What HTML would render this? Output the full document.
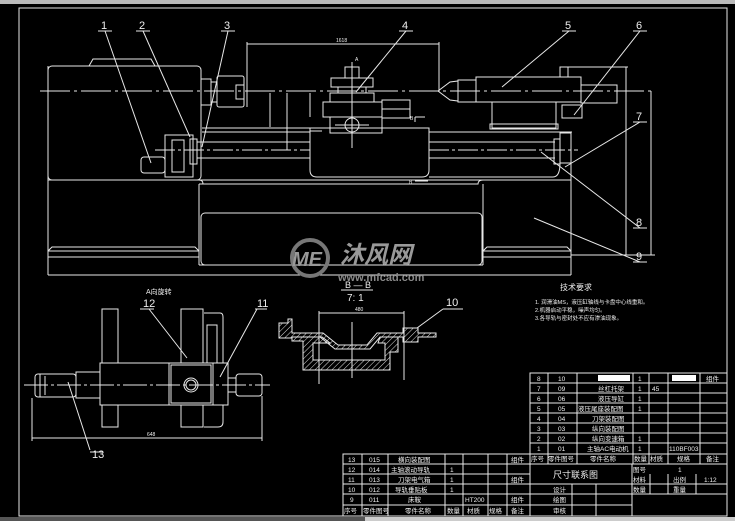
<!DOCTYPE html>
<html><head><meta charset="utf-8"><style>
html,body{margin:0;padding:0;background:#000;width:735px;height:521px;overflow:hidden}
svg{display:block}
text{font-family:"Liberation Sans","Noto Sans CJK SC",sans-serif;fill:#eee}
</style></head><body>
<svg width="735" height="521" viewBox="0 0 735 521" xmlns="http://www.w3.org/2000/svg">
<defs>
<pattern id="h" width="4" height="4" patternUnits="userSpaceOnUse" patternTransform="rotate(45)">
<line x1="0" y1="0" x2="0" y2="4" stroke="#ddd" stroke-width="1"/></pattern>
</defs>
<rect x="0" y="0" width="735" height="4" fill="#bbb"/>
<rect x="0" y="517" width="735" height="4" fill="#555"/>
<rect x="365" y="517" width="370" height="4" fill="#ccc"/>
<g fill="none" stroke="#e8e8e8" stroke-width="1">
<rect x="19" y="8" width="708" height="508"/>
<rect x="48" y="66" width="153" height="114" rx="4"/>
<polyline points="89,66 93,59 151,59 155,66"/>
<line x1="40" y1="91" x2="652" y2="91" stroke-dasharray="30,4,3,4"/>
<rect x="201" y="79" width="10" height="26"/>
<rect x="211" y="82" width="6" height="20"/>
<rect x="217" y="76" width="27" height="31" rx="2"/>
<rect x="236" y="85" width="8" height="14"/>
<line x1="247" y1="44" x2="439" y2="44"/>
<line x1="247" y1="42" x2="247" y2="107"/>
<line x1="439" y1="42" x2="439" y2="92"/>
<rect x="345" y="67" width="14" height="11"/>
<rect x="331" y="78" width="42" height="9"/>
<rect x="338" y="87" width="28" height="6"/>
<rect x="330" y="93" width="44" height="9"/>
<rect x="323" y="102" width="59" height="15"/>
<rect x="382" y="100" width="28" height="18"/>
<line x1="382" y1="109" x2="410" y2="109"/>
<rect x="330" y="117" width="52" height="16"/>
<circle cx="352" cy="125" r="7"/>
<line x1="352" y1="62" x2="352" y2="148"/>
<line x1="335" y1="125" x2="369" y2="125"/>
<line x1="270" y1="93" x2="270" y2="127"/>
<line x1="287" y1="93" x2="287" y2="150"/>
<line x1="310" y1="93" x2="310" y2="117"/>
<path d="M310,128 L429,128 L429,170 Q429,177 422,177 L317,177 Q310,177 310,170 Z"/>
<line x1="310" y1="131" x2="322" y2="131"/>
<line x1="202" y1="128" x2="310" y2="128"/>
<line x1="202" y1="132" x2="310" y2="132"/>
<line x1="429" y1="132" x2="572" y2="132"/>
<line x1="197" y1="142" x2="310" y2="142"/>
<line x1="429" y1="142" x2="555" y2="142"/>
<line x1="155" y1="150" x2="310" y2="150" stroke-dasharray="20,3,3,3"/>
<line x1="429" y1="150" x2="578" y2="150" stroke-dasharray="20,3,3,3"/>
<line x1="197" y1="158" x2="310" y2="158"/>
<line x1="429" y1="158" x2="555" y2="158"/>
<rect x="141" y="157" width="24" height="16" rx="3"/>
<rect x="165" y="135" width="28" height="42"/>
<rect x="172" y="140" width="12" height="32"/>
<rect x="190" y="139" width="7" height="25"/>
<rect x="554" y="139" width="6" height="25"/>
<rect x="560" y="133" width="11" height="30"/>
<path d="M560,163 Q560,177 553,177 L429,177"/>
<path d="M438,91 L450,82 L458,81 L458,101 L450,100 Z"/>
<rect x="458" y="80" width="18" height="22"/>
<rect x="476" y="77" width="105" height="25"/>
<rect x="581" y="85" width="36" height="18"/>
<rect x="492" y="102" width="64" height="26"/>
<rect x="490" y="124" width="68" height="5"/>
<rect x="560" y="67" width="8" height="10"/>
<rect x="562" y="105" width="20" height="13"/>
<line x1="568" y1="67" x2="628" y2="67"/>
<line x1="626" y1="67" x2="626" y2="255"/>
<line x1="651" y1="91" x2="651" y2="255"/>
<line x1="48" y1="180" x2="571" y2="180"/>
<line x1="48" y1="66" x2="48" y2="275"/>
<line x1="571" y1="132" x2="571" y2="275"/>
<path d="M199,180 Q203,180 203,184 L478,184 Q478,180 483,180"/>
<line x1="203" y1="184" x2="199" y2="184"/>
<line x1="199" y1="184" x2="199" y2="265"/>
<line x1="483" y1="184" x2="483" y2="265"/>
<rect x="201" y="213" width="281" height="52" rx="4"/>
<line x1="199" y1="265" x2="483" y2="265"/>
<path d="M48,251 L52,247 L195,247 L199,251"/>
<path d="M483,251 L487,247 L567,247 L571,251"/>
<line x1="48" y1="251" x2="199" y2="251"/>
<line x1="483" y1="251" x2="571" y2="251"/>
<line x1="48" y1="257" x2="199" y2="257"/>
<line x1="483" y1="257" x2="571" y2="257"/>
<line x1="48" y1="275" x2="571" y2="275"/>
<line x1="571" y1="255" x2="655" y2="255"/>
<line x1="105" y1="31" x2="151" y2="163"/>
<line x1="143" y1="31" x2="190" y2="137"/>
<line x1="228" y1="31" x2="202" y2="147"/>
<line x1="406" y1="31" x2="356" y2="92"/>
<line x1="569" y1="31" x2="502" y2="87"/>
<line x1="640" y1="31" x2="574" y2="115"/>
<line x1="640" y1="122" x2="565" y2="167"/>
<line x1="640" y1="228" x2="541" y2="152"/>
<line x1="640" y1="262" x2="534" y2="218"/>
<line x1="98" y1="31" x2="112" y2="31"/>
<line x1="136" y1="31" x2="150" y2="31"/>
<line x1="221" y1="31" x2="235" y2="31"/>
<line x1="399" y1="31" x2="413" y2="31"/>
<line x1="562" y1="31" x2="576" y2="31"/>
<line x1="633" y1="31" x2="647" y2="31"/>
<line x1="633" y1="122" x2="647" y2="122"/>
<line x1="633" y1="228" x2="647" y2="228"/>
<line x1="633" y1="262" x2="647" y2="262"/>
<line x1="415" y1="117" x2="425" y2="117"/><line x1="415" y1="117" x2="415" y2="122"/>
<line x1="415" y1="181" x2="428" y2="181"/>
<rect x="102" y="309" width="16" height="54"/>
<rect x="102" y="405" width="16" height="22"/>
<rect x="181" y="309" width="22" height="54"/>
<rect x="181" y="405" width="22" height="22"/>
<path d="M204,313 L220,313 Q223,313 223,317 L223,363"/>
<path d="M204,405 L223,405 L223,422 Q223,427 218,427 L204,427"/>
<rect x="207" y="325" width="10" height="38"/>
<rect x="100" y="363" width="69" height="42"/>
<rect x="169" y="363" width="44" height="42"/>
<rect x="171" y="365" width="40" height="38"/>
<circle cx="191" cy="385" r="7"/><circle cx="191" cy="385" r="5"/>
<rect x="213" y="363" width="15" height="42"/>
<rect x="76" y="372" width="24" height="26"/>
<rect x="35" y="374" width="41" height="23" rx="3"/>
<line x1="40" y1="374" x2="40" y2="397"/><line x1="45" y1="376" x2="45" y2="395"/>
<rect x="228" y="378" width="8" height="14"/>
<rect x="236" y="374" width="26" height="22" rx="3"/>
<line x1="24" y1="385" x2="270" y2="385" stroke-dasharray="24,3,3,3"/>
<line x1="32" y1="438" x2="262" y2="438"/>
<line x1="32" y1="398" x2="32" y2="441"/><line x1="262" y1="396" x2="262" y2="441"/>
<line x1="140" y1="309" x2="154" y2="309"/><line x1="149" y1="309" x2="187" y2="358"/>
<line x1="255" y1="309" x2="267" y2="309"/><line x1="257" y1="309" x2="220" y2="377"/>
<line x1="90" y1="452" x2="103" y2="452"/><line x1="90" y1="450" x2="68" y2="382"/>
<line x1="341" y1="290" x2="373" y2="290"/>
<line x1="319" y1="313" x2="404" y2="313"/>
<line x1="319" y1="311" x2="319" y2="384"/>
<line x1="404" y1="311" x2="404" y2="380"/>
<line x1="352" y1="322" x2="352" y2="378"/>
<line x1="443" y1="309" x2="463" y2="309"/><line x1="443" y1="309" x2="417" y2="328"/>
</g>
<g stroke="#e8e8e8" stroke-width="1" fill="url(#h)">
<path d="M279,323 L288,323 L288,319 L292,319 L292,333 L323,333 L338,345 L367,345 L377,333 L403,333 L403,328 L418,328 L418,333 L436,333 L436,337 L418,337 L418,342 L403,342 L403,337 L380,337 L370,349 L335,349 L320,337 L292,337 L292,338 L279,338 Z"/>
<path fill-rule="evenodd" d="M292,337 L322,337 L330,343 L315,343 L313,343 L313,360 L385,360 L385,343 L378,343 L380,337 L398,337 L398,352 L390,352 L390,370 L303,370 L303,341 L292,341 Z"/>
</g>
<g font-size="11">
<text x="101" y="29">1</text><text x="139" y="29">2</text><text x="224" y="29">3</text>
<text x="402" y="29">4</text><text x="565" y="29">5</text><text x="636" y="29">6</text>
<text x="636" y="120">7</text><text x="636" y="226">8</text><text x="636" y="260">9</text>
<text x="143" y="307">12</text><text x="257" y="307">11</text><text x="92" y="458">13</text>
<text x="446" y="306">10</text>
<text x="345" y="288" font-size="9">B — B</text>
<text x="347" y="301" font-size="10">7: 1</text>
</g>
<g font-size="5">
<text x="336" y="42">1618</text><text x="355" y="61">A</text>
<text x="410" y="120">B</text><text x="409" y="184">B</text>
<text x="355" y="311">480</text><text x="147" y="436">648</text>
</g>
<text x="146" y="294" font-size="7">A向旋转</text>
<text x="560" y="290" font-size="8">技术要求</text>
<g font-size="5.5">
<text x="535" y="304">1. 润滑油MS，液压缸轴线与卡盘中心线重和。</text>
<text x="535" y="312">2.机器启动平稳，噪声均匀。</text>
<text x="535" y="320">3.各导轨与密封处不应有渗油现象。</text>
</g>
<g fill="#888" stroke="none">
<circle cx="310" cy="258" r="18" fill="none" stroke="#777" stroke-width="4"/>
<text x="292" y="266" font-size="20" font-weight="bold" font-style="italic" style="fill:#999">ME</text>
<text x="340" y="263" font-size="24" font-weight="bold" font-style="italic" style="fill:#999">沐风网</text>
<text x="338" y="281" font-size="11" font-weight="bold" style="fill:#888">www.mfcad.com</text>
</g>
<g fill="none" stroke="#e8e8e8" stroke-width="1">
<rect x="530" y="373" width="197" height="81"/>
<line x1="530" y1="383" x2="727" y2="383"/><line x1="530" y1="393" x2="727" y2="393"/>
<line x1="530" y1="403" x2="727" y2="403"/><line x1="530" y1="413" x2="727" y2="413"/>
<line x1="530" y1="423" x2="727" y2="423"/><line x1="530" y1="433" x2="727" y2="433"/>
<line x1="530" y1="443" x2="727" y2="443"/>
<line x1="548" y1="373" x2="548" y2="464"/><line x1="577" y1="373" x2="577" y2="464"/>
<line x1="633" y1="373" x2="633" y2="464"/><line x1="649" y1="373" x2="649" y2="464"/>
<line x1="668" y1="373" x2="668" y2="464"/><line x1="700" y1="373" x2="700" y2="464"/>
<rect x="343" y="454" width="384" height="62"/>
<line x1="343" y1="464" x2="727" y2="464"/>
<line x1="343" y1="474" x2="530" y2="474"/><line x1="343" y1="484" x2="727" y2="484"/>
<line x1="343" y1="494" x2="727" y2="494"/><line x1="343" y1="505" x2="632" y2="505"/>
<line x1="362" y1="454" x2="362" y2="516"/><line x1="388" y1="454" x2="388" y2="516"/>
<line x1="445" y1="454" x2="445" y2="516"/><line x1="463" y1="454" x2="463" y2="516"/>
<line x1="488" y1="454" x2="488" y2="516"/><line x1="507" y1="454" x2="507" y2="516"/>
<line x1="530" y1="454" x2="530" y2="516"/>
<line x1="632" y1="464" x2="632" y2="516"/>
<line x1="572" y1="484" x2="572" y2="516"/><line x1="596" y1="484" x2="596" y2="516"/>
<line x1="650" y1="474" x2="650" y2="494"/><line x1="668" y1="474" x2="668" y2="494"/>
<line x1="696" y1="474" x2="696" y2="494"/>
</g>
<rect x="598" y="375" width="32" height="6" fill="#fff"/>
<rect x="672" y="375" width="24" height="6" fill="#fff"/>
<g font-size="6.5">
<text x="537" y="381">8</text><text x="558" y="381">10</text><text x="638" y="381">1</text><text x="706" y="381">组件</text>
<text x="537" y="391">7</text><text x="558" y="391">09</text><text x="598" y="391">丝杠托架</text><text x="638" y="391">1</text><text x="652" y="391">45</text>
<text x="537" y="401">6</text><text x="558" y="401">06</text><text x="598" y="401">液压导缸</text><text x="638" y="401">1</text>
<text x="537" y="411">5</text><text x="558" y="411">05</text><text x="578" y="411">液压尾座装配图</text><text x="638" y="411">1</text>
<text x="537" y="421">4</text><text x="558" y="421">04</text><text x="592" y="421">刀架装配图</text>
<text x="537" y="431">3</text><text x="558" y="431">03</text><text x="592" y="431">纵向装配图</text>
<text x="537" y="441">2</text><text x="558" y="441">02</text><text x="592" y="441">纵向变速箱</text><text x="638" y="441">1</text>
<text x="537" y="451">1</text><text x="558" y="451">01</text><text x="587" y="451">主轴AC电动机</text><text x="638" y="451">1</text><text x="669" y="451">110BF003</text>
<text x="531" y="461">序号</text><text x="548" y="461">零件图号</text><text x="590" y="461">零件名称</text><text x="634" y="461">数量</text><text x="650" y="461">材质</text><text x="677" y="461">规格</text><text x="706" y="461">备注</text>
<text x="348" y="462">13</text><text x="369" y="462">015</text><text x="398" y="462">横向装配图</text><text x="511" y="462">组件</text>
<text x="348" y="472">12</text><text x="369" y="472">014</text><text x="391" y="472">主轴滚动导轨</text><text x="450" y="472">1</text>
<text x="348" y="482">11</text><text x="369" y="482">013</text><text x="398" y="482">刀架电气箱</text><text x="450" y="482">1</text><text x="511" y="482">组件</text>
<text x="348" y="492">10</text><text x="369" y="492">012</text><text x="395" y="492">导轨垂贴板</text><text x="450" y="492">1</text>
<text x="350" y="502">9</text><text x="369" y="502">011</text><text x="408" y="502">床鞍</text><text x="465" y="502">HT200</text><text x="511" y="502">组件</text>
<text x="344" y="513">序号</text><text x="363" y="513">零件图号</text><text x="405" y="513">零件名称</text><text x="447" y="513">数量</text><text x="467" y="513">材质</text><text x="489" y="513">规格</text><text x="511" y="513">备注</text>
<text x="553" y="492">设计</text><text x="553" y="502">绘图</text><text x="553" y="513">审核</text>
<text x="633" y="472">图号</text><text x="678" y="472">1</text>
<text x="633" y="482">材料</text><text x="673" y="482">出例</text><text x="704" y="482">1:12</text>
<text x="633" y="492">数量</text><text x="673" y="492">重量</text>
</g>
<text x="553" y="478" font-size="9">尺寸联系图</text>
</svg>
</body></html>
